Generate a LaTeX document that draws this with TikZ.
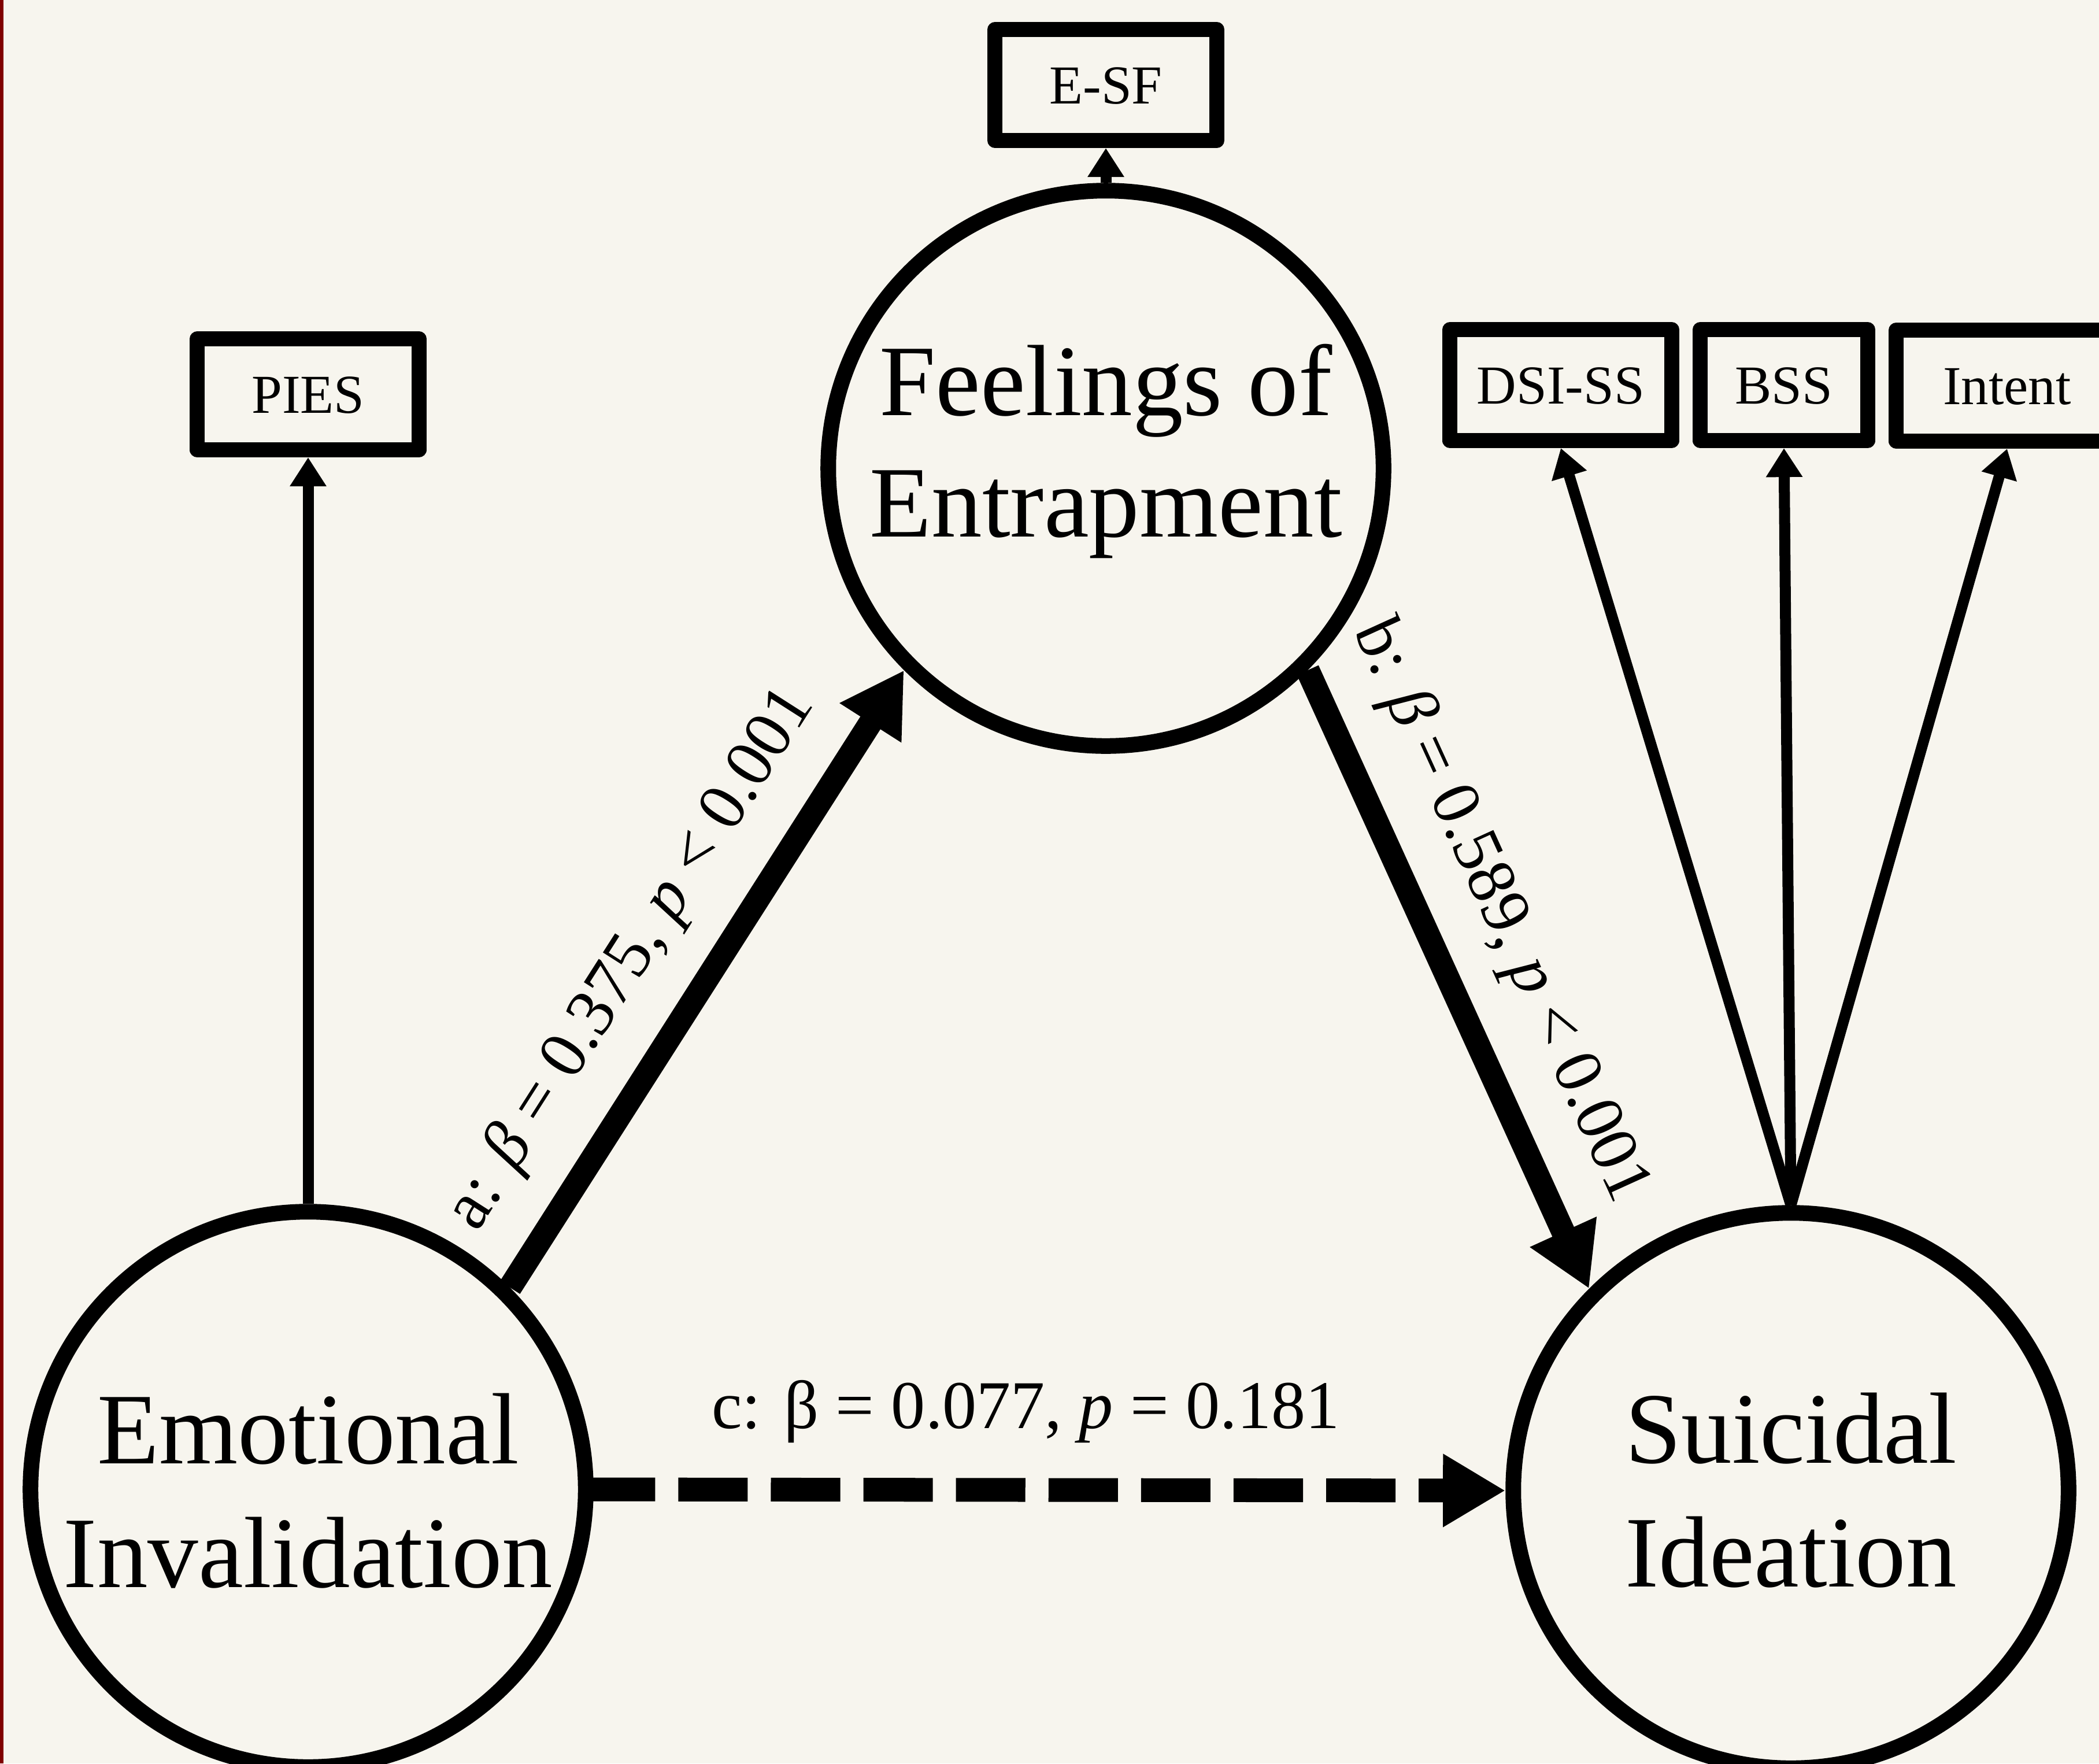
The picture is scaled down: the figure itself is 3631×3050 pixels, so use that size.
\documentclass[tikz,border=0pt]{standalone}
\usepackage{fontspec}
\setmainfont{Liberation Serif}
\usetikzlibrary{arrows.meta}
\newdimen\PX \PX=0.01cm
\definecolor{bgcream}{RGB}{247,245,238}
\definecolor{edgered}{RGB}{128,0,0}
\begin{document}
\begin{tikzpicture}[x=0.01cm,y=-0.01cm,
  latent/.style={circle, draw, line width=0.27cm, minimum size=9.6cm, inner sep=0pt},
  manifest/.style={rectangle, draw, line width=0.26cm, line join=round,
    minimum width=3.83cm, minimum height=1.92cm, inner sep=0pt,
    text height=0.64cm, text depth=0pt, font=\fontsize{27pt}{32pt}\selectfont},
  bigtext/.style={anchor=base, inner sep=0pt, font=\fontsize{49.8pt}{60pt}\selectfont},
  load/.style={-{Triangle[length=0.5cm,width=0.6cm]}, line width=0.19cm},
  regpath/.style={-{Triangle[length=1.08cm,width=1.19cm]}, line width=0.41cm},
  coef/.style={inner sep=0pt, text depth=0pt, font=\fontsize{33.6pt}{40pt}\selectfont}
]
\fill[bgcream] (0,0) rectangle (3631,3050);
\useasboundingbox (0,0) rectangle (3631,3050);
\clip (0,0) rectangle (3631,3050);
\fill[edgered] (0,0) rectangle (6,3050);

% latent variables
\node[latent] (EI) at (533,2576) {};
\node[latent] (FE) at (1913,810) {};
\node[latent] (SI) at (3098,2578) {};
\node[bigtext] (EI1) at (533,2531) {Emotional};
\node[bigtext] (EI2) at (533,2745) {Invalidation};
\node[bigtext] (FE1) at (1913,718) {Feelings of};
\node[bigtext] (FE2) at (1913,928) {Entrapment};
\node[bigtext] (SI1) at (3098,2530) {Suicidal};
\node[bigtext] (SI2) at (3098,2744) {Ideation};

% indicators
\node[manifest] (PIES) at (533,682) {PIES};
\node[manifest] (ESF) at (1913,147) {E-SF};
\node[manifest] (DSI) at (2700,666) {DSI-SS};
\node[manifest, minimum width=2.89cm] (BSS) at (3086,666) {BSS};
\node[manifest] (INT) at (3472,667) {Intent};

% loadings
\draw[load] (EI.north) -- (PIES.south);
\draw[load] (FE.north) -- (ESF.south);
\draw[load] (SI.north) -- (DSI.south);
\draw[load] (SI.north) -- (BSS.south);
\draw[load] (SI.north) -- (INT.south);

% structural paths
\draw[regpath] (EI.45) -- node[coef, sloped, pos=0.467, above=0.78cm] (La)
  {a: \textit{β} = 0.375, \textit{p} < 0.001} (FE.225);
\draw[regpath] (FE.-45) -- node[coef, sloped, pos=0.44, above=0.8cm] (Lb)
  {b: \textit{β} = 0.589, \textit{p} < 0.001} (SI.135);
\draw[regpath, dash pattern=on 1.2cm off 0.4cm, shorten <=-0.135cm] (EI.east) --
  node[coef, pos=0.474, above=0.86cm] (Lc) {c: β = 0.077, \textit{p} = 0.181} (SI.west);
\end{tikzpicture}
\end{document}
